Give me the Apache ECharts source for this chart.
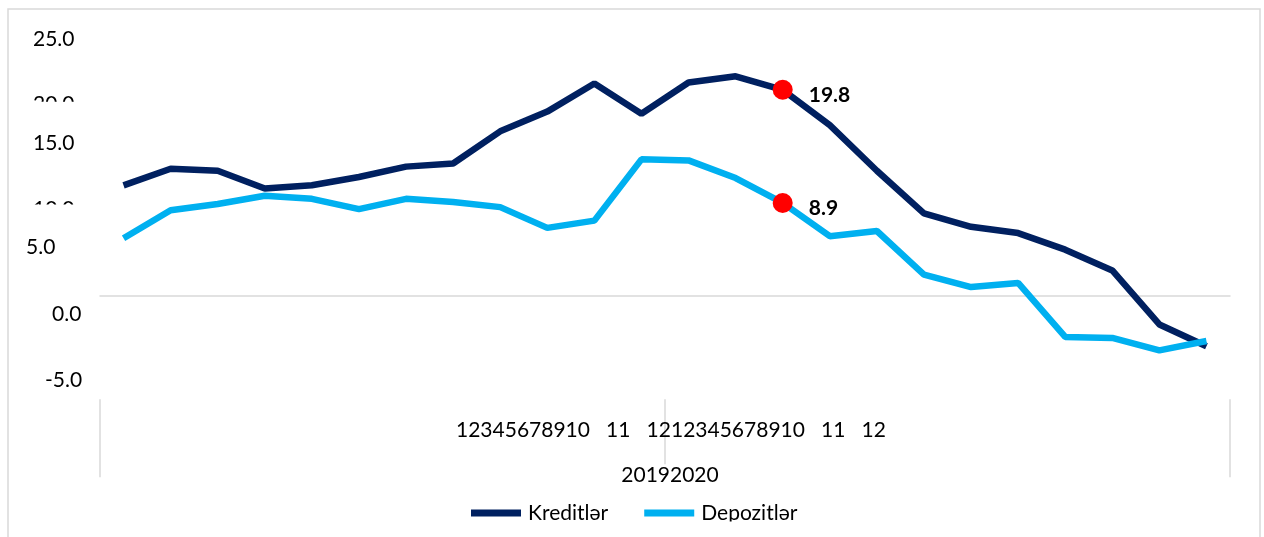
<!DOCTYPE html>
<html>
<head>
<meta charset="utf-8">
<script src="https://cdn.jsdelivr.net/npm/echarts@6/dist/echarts.min.js"></script>
<style>
html,body{margin:0;padding:0;background:#fff;}
#chart{width:1264px;height:537px;}
</style>
</head>
<body>
<div id="chart"></div>
<script>
const years = ['2019', '2020'];
const months = ['1','2','3','4','5','6','7','8','9','10','11','12'];
const categories = years.flatMap(y => months.map(m => y + '-' + m));
const kreditler = [10.6, 12.2, 12.0, 10.3, 10.6, 11.4, 12.4, 12.7, 15.8, 17.7, 20.4, 17.5,
                   20.5, 21.1, 19.8, 16.4, 12.0, 7.9, 6.6, 6.0, 4.4, 2.4, -2.8, -4.9];
const depozitler = [5.5, 8.2, 8.8, 9.6, 9.3, 8.3, 9.3, 9.0, 8.5, 6.5, 7.2, 13.1,
                    13.0, 11.3, 8.9, 5.7, 6.2, 2.0, 0.8, 1.2, -4.0, -4.1, -5.3, -4.4];
const seriesNames = ['Kreditlər', 'Depozitlər'];
const yTickLabels = ['25.0', '20.0', '15.0', '10.0', '5.0', '0.0', '-5.0'];
const highlightIndex = 14;

// layout (positions of the garbled Excel-style tick labels)
const FONT = 'Lato';
const FS = 21;
const yLabelPos = [[33, 39], [33, 104], [33, 143], [33, 209], [26, 247], [52, 314], [45, 380]];
const clipMasks = [[20, 101.7, 70, 20], [20, 204.5, 70, 20], [440, 521.5, 400, 16]];
const GRID_C = '#d9d9d9';

const monthLine = years.map(() => months.slice(0, 10).join('') + '   ' + months[10] + '   ' + months[11]).join('');
const yearLine = years.join('');

function withHighlight(values) {
  return values.map((v, i) => i === highlightIndex ? {
    value: v,
    symbol: 'circle',
    symbolSize: 20,
    itemStyle: { color: '#ff0000' },
    label: {
      show: true, position: 'right', distance: 16, offset: [0, 5],
      fontFamily: FONT, fontSize: FS, fontWeight: 'bold', color: '#000',
      formatter: p => Number(p.value).toFixed(1)
    }
  } : v);
}

const graphic = [];
graphic.push({
  type: 'polyline', silent: true, z: 100,
  shape: { points: [[8, 537], [8, 9], [1260, 9], [1260, 537]] },
  style: { stroke: GRID_C, lineWidth: 1.5, fill: null }
});
yTickLabels.forEach((t, i) => {
  graphic.push({
    type: 'text', silent: true, z: 100, x: yLabelPos[i][0], y: yLabelPos[i][1],
    style: { text: t, fontFamily: FONT, fontSize: FS, fill: '#000',
             align: 'left', verticalAlign: 'middle', textAlign: 'left', textVerticalAlign: 'middle' }
  });
});
graphic.push({
  type: 'text', silent: true, z: 100, x: 456, y: 430,
  style: { text: monthLine, fontFamily: FONT, fontSize: FS, fill: '#000',
           align: 'left', verticalAlign: 'middle', textAlign: 'left', textVerticalAlign: 'middle' }
});
graphic.push({
  type: 'text', silent: true, z: 100, x: 670, y: 475,
  style: { text: yearLine, fontFamily: FONT, fontSize: FS, fill: '#000',
           align: 'center', verticalAlign: 'middle', textAlign: 'center', textVerticalAlign: 'middle' }
});
clipMasks.forEach(m => {
  graphic.push({
    type: 'rect', silent: true, z: 200,
    shape: { x: m[0], y: m[1], width: m[2], height: m[3] },
    style: { fill: '#fff' }
  });
});

const tickStyle = { color: GRID_C, width: 1.5 };

const option = {
  animation: false,
  backgroundColor: '#fff',
  grid: { left: 100, right: 34, top: 35.8, bottom: 137.8, containLabel: false },
  legend: {
    data: seriesNames,
    left: 471, top: 502.5, padding: 0,
    icon: 'rect', itemWidth: 50, itemHeight: 7, itemGap: 36,
    textStyle: { fontFamily: FONT, fontSize: FS, color: '#000', padding: [0, 0, 0, 2] },
    selectedMode: false
  },
  xAxis: [
    {
      type: 'category', data: categories, boundaryGap: true, position: 'bottom',
      axisLine: { show: true, onZero: true, lineStyle: tickStyle },
      axisTick: { show: false }, axisLabel: { show: false }, splitLine: { show: false }
    },
    {
      type: 'category', data: years, boundaryGap: true, position: 'bottom',
      axisLine: { show: false, onZero: false },
      axisTick: { show: true, interval: 0, length: 65, lineStyle: tickStyle },
      axisLabel: { show: false }, splitLine: { show: false }
    },
    {
      type: 'category', data: [''], boundaryGap: true, position: 'bottom',
      axisLine: { show: false, onZero: false },
      axisTick: { show: true, interval: 0, length: 78, lineStyle: tickStyle },
      axisLabel: { show: false }, splitLine: { show: false }
    }
  ],
  yAxis: {
    type: 'value', min: -10, max: 25, interval: 5,
    axisLine: { show: false }, axisTick: { show: false },
    axisLabel: { show: false }, splitLine: { show: false }
  },
  series: [
    {
      name: seriesNames[0], type: 'line', data: withHighlight(kreditler),
      symbol: 'none', showSymbol: true, color: '#002060',
      lineStyle: { width: 6.5, color: '#002060' }, z: 3,
      emphasis: { disabled: true }
    },
    {
      name: seriesNames[1], type: 'line', data: withHighlight(depozitler),
      symbol: 'none', showSymbol: true, color: '#00b0f0',
      lineStyle: { width: 6.5, color: '#00b0f0' }, z: 4,
      emphasis: { disabled: true }
    }
  ],
  graphic: graphic
};

const chart = echarts.init(document.getElementById('chart'), null, { renderer: 'canvas' });
chart.setOption(option);
</script>
</body>
</html>
